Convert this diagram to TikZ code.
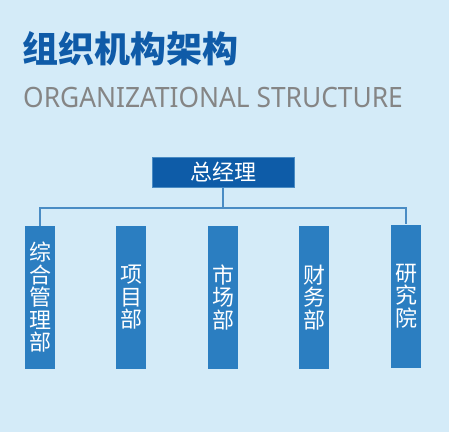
\documentclass[tikz,border=0pt]{standalone}
\usepackage{fontspec}
\setmainfont{Noto Sans}
\newfontfamily\cjk{Noto Sans CJK SC}
\newfontfamily\subfont[FakeStretch=0.94]{Noto Sans}
\definecolor{bgblue}{HTML}{D4EBF8}
\definecolor{titleblue}{HTML}{0F5BA8}
\definecolor{subgray}{HTML}{858585}
\definecolor{headblue}{HTML}{0E5CA8}
\definecolor{deptblue}{HTML}{2B7EC1}
\definecolor{linkblue}{HTML}{4A8CC4}
\tikzset{
  headbox/.style={fill=headblue, draw=linkblue, line width=0.8pt, minimum width=142pt, minimum height=30pt,
    inner sep=0pt, text=white, font=\cjk\fontsize{22}{24}\selectfont},
  deptbox/.style={fill=deptblue, minimum width=30pt, minimum height=143pt, inner sep=0pt,
    text=white, align=center, font=\cjk\fontsize{22}{22.5}\selectfont},
  link/.style={linkblue, line width=1.2pt}
}
\begin{document}
\begin{tikzpicture}[x=1pt, y=-1pt]
		\fill [bgblue] (0,0) rectangle (449,432);

		\node [anchor=west, inner sep=0pt, text=titleblue, font=\cjk\bfseries\fontsize{36}{40}\selectfont] (title) at (22,49) {组织机构架构};
		\node [anchor=base west, inner sep=0pt, text=subgray, font=\subfont\fontsize{28}{32}\selectfont] (subtitle) at (23,107) {ORGANIZATIONAL STRUCTURE};

		\node [headbox] (gm) at (223,172) {总经理};

		\node [deptbox] (dept1) at (40,297.5) {综\\合\\管\\理\\部};
		\node [deptbox] (dept2) at (131,297.5) {项\\目\\部};
		\node [deptbox] (dept3) at (223,297.5) {市\\场\\部};
		\node [deptbox] (dept4) at (314,297.5) {财\\务\\部};
		\node [deptbox] (dept5) at (406,296) {研\\究\\院};

		\coordinate (busL) at (dept1.north |- 0,208);
		\coordinate (busR) at (dept5.north |- 0,208);

		\draw [link] (gm.south) -- (gm.south |- busL);
		\draw [link] (dept1.north) -- (busL) -- (busR) -- (dept5.north);

		\end{tikzpicture}
\end{document}
